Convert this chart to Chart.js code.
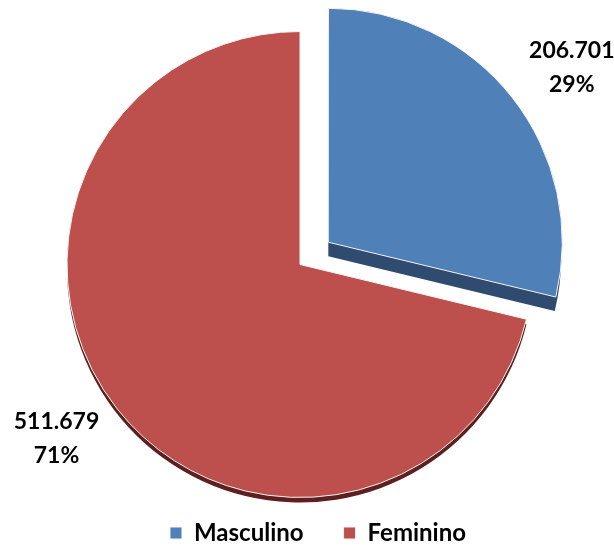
<!DOCTYPE html>
<html>
<head>
<meta charset="utf-8">
<script src="https://cdn.jsdelivr.net/npm/chart.js@4.4.1/dist/chart.umd.min.js"></script>
<style>
    html, body { margin: 0; padding: 0; background: #fff; }
    #wrap { width: 614px; height: 545px; }
</style>
</head>
<body>
<div id="wrap"><canvas id="grafico"></canvas></div>
<script>
// dados do gráfico
const categorias = ['Masculino', 'Feminino'];
const valores = [206701, 511679];
const cores = ['#4F80B8', '#BD504D'];
const coresLado = ['#2F4B70', '#5E201E'];
const deslocamento = [36, 0]; // px (o Chart.js divide o offset por 4)
const profundidade = [14, 5];

const total = valores.reduce((a, b) => a + b, 0);

// lado "3D" de cada fatia, desenhado um pouco abaixo
const lado3d = {
    id: 'lado3d',
    afterLayout(chart) {
        // legenda um pouco à direita do centro da pizza
        chart.legend.left += 18;
        chart.legend.right += 18;
    },
    beforeDatasetsDraw(chart) {
        const ctx = chart.ctx;
        const meta = chart.getDatasetMeta(0);
        meta.data.forEach((arc, i) => {
            const p = arc.getProps(['x', 'y', 'startAngle', 'endAngle', 'outerRadius'], true);
            const meio = (p.startAngle + p.endAngle) / 2;
            const dx = Math.cos(meio) * deslocamento[i];
            const dy = Math.sin(meio) * deslocamento[i] + profundidade[i];
            ctx.save();
            ctx.fillStyle = coresLado[i];
            ctx.beginPath();
            ctx.moveTo(p.x + dx, p.y + dy);
            ctx.arc(p.x + dx, p.y + dy, p.outerRadius, p.startAngle, p.endAngle);
            ctx.closePath();
            ctx.fill();
            ctx.restore();
        });
    }
};

// rótulos fora das fatias: valor e percentual
const rotulos = {
    id: 'rotulos',
    afterDatasetsDraw(chart) {
        const ctx = chart.ctx;
        const meta = chart.getDatasetMeta(0);
        ctx.save();
        ctx.font = 'bold 23px Lato, "Open Sans", sans-serif';
        ctx.fillStyle = '#000';
        ctx.textAlign = 'center';
        ctx.textBaseline = 'middle';
        meta.data.forEach((arc, i) => {
            const p = arc.getProps(['x', 'y', 'startAngle', 'endAngle', 'outerRadius'], true);
            const meio = (p.startAngle + p.endAngle) / 2;
            const r = p.outerRadius;
            const x = p.x + Math.cos(meio) * (r * 1.33 + deslocamento[i]);
            const y = p.y + Math.sin(meio) * (r * 1.21 + deslocamento[i]);
            const pct = Math.round(valores[i] / total * 100) + '%';
            ctx.fillText(valores[i].toLocaleString('pt-BR'), x, y - 17);
            ctx.fillText(pct, x, y + 17);
        });
        ctx.restore();
    }
};

new Chart(document.getElementById('grafico'), {
    type: 'pie',
    data: {
        labels: categorias,
        datasets: [{
            data: valores,
            backgroundColor: cores,
            borderColor: '#f4f4f4',
            borderWidth: 1,
            offset: deslocamento.map(d => d * 4),
            clip: false
        }]
    },
    options: {
        responsive: true,
        maintainAspectRatio: false,
        animation: false,
        radius: 233,
        layout: { padding: { left: 0, right: 14, top: 48, bottom: -10 } },
        plugins: {
            tooltip: { enabled: false },
            legend: {
                position: 'bottom',
                labels: {
                    boxWidth: 12,
                    boxHeight: 12,
                    padding: 40,
                    color: '#000',
                    font: { family: 'Lato, "Open Sans", sans-serif', size: 24, weight: 'bold' }
                }
            }
        }
    },
    plugins: [lado3d, rotulos]
});
</script>
</body>
</html>
